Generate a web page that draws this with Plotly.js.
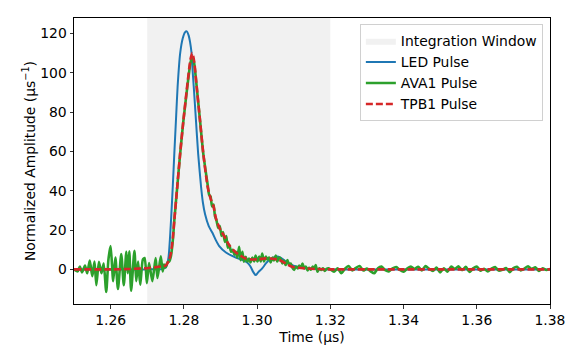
<!DOCTYPE html>
<html>
<head>
<meta charset="utf-8">
<script src="https://cdn.plot.ly/plotly-3.0.1.min.js"></script>
<style>
  html, body { margin: 0; padding: 0; background: #fff; }
  #chart { width: 581px; height: 363px; }
</style>
</head>
<body>
<div id="chart"></div>
<script>
// integration window (µs)
var windowX = [1.27, 1.32];

// LED pulse (blue)
var ledTime = [1.2500, 1.2600, 1.2700, 1.2740, 1.2751, 1.2758, 1.2765, 1.2770, 1.2774, 1.2779,
  1.2783, 1.2790, 1.2797, 1.2803, 1.2808, 1.2813, 1.2817, 1.2821, 1.2824, 1.2827,
  1.2833, 1.2839, 1.2847, 1.2852, 1.2858, 1.2868, 1.2878, 1.2887, 1.2896, 1.2915,
  1.2942, 1.2960, 1.2973, 1.2982, 1.2989, 1.2996, 1.3003, 1.3014, 1.3024, 1.3033,
  1.3044, 1.3055, 1.3064, 1.3078, 1.3096, 1.3114, 1.3132, 1.3160, 1.3200, 1.3500, 1.3800];
var ledAmp = [0, 0, 0, 0.2, 1, 6, 25, 43, 59, 78,
  93, 110, 117.5, 120.5, 121, 119, 115.5, 110, 101, 93,
  76, 59, 42, 34, 28, 22, 18.6, 15, 12, 8.6,
  6, 4.8, 3.5, 1.5, -1.2, -2.9, -1.5, 0.5, 3, 4.8,
  6, 6.6, 6, 4.2, 2.2, 1.2, 0.6, 0.2, 0, 0, 0];

// TPB1 pulse (red dashed)
var tpbTime = [1.2500, 1.2600, 1.2650, 1.2700, 1.2720, 1.2740, 1.2751, 1.2760, 1.2765, 1.2770,
  1.2774, 1.2782, 1.2790, 1.2799, 1.2809, 1.2818, 1.2823, 1.2828, 1.2835, 1.2844,
  1.2853, 1.2865, 1.2873, 1.2881, 1.2889, 1.2900, 1.2910, 1.2925, 1.2942, 1.2969,
  1.2987, 1.3005, 1.3024, 1.3042, 1.3060, 1.3078, 1.3096, 1.3114, 1.3132, 1.3160,
  1.3196, 1.3300, 1.3400, 1.3500, 1.3600, 1.3700, 1.3800];
var tpbAmp = [0, 0, 0.2, 0.6, 1.0, 1.5, 2, 5, 8.6, 16,
  25, 42, 59, 76, 93, 106.7, 110, 106, 93, 76,
  59, 42, 36, 32, 25, 20, 17, 12, 8.6, 5.5,
  5, 5.2, 5.6, 5.4, 4.8, 3, 1.3, 0.8, 0.5, 0.2,
  0, 0, 0, 0, 0, 0, 0];

// AVA1 pulse (green), noisy
var avaTime = [
  1.2500, 1.2510, 1.2516, 1.2522, 1.2530, 1.2536, 1.2543, 1.2550, 1.2556, 1.2561,
  1.2568, 1.2575, 1.2581, 1.2588, 1.2594, 1.2600, 1.2607, 1.2613, 1.2620, 1.2629,
  1.2636, 1.2643, 1.2647, 1.2651, 1.2656, 1.2665, 1.2670, 1.2675, 1.2681, 1.2688,
  1.2693, 1.2699, 1.2705, 1.2714, 1.2723, 1.2728, 1.2737, 1.2742, 1.2746, 1.2750,
  1.2755,
  1.2760, 1.2765, 1.2770, 1.2774, 1.2782, 1.2790, 1.2799, 1.2809, 1.2818, 1.2823,
  1.2828, 1.2835, 1.2844, 1.2853, 1.2865, 1.2869, 1.2873, 1.2877, 1.2881, 1.2885,
  1.2889, 1.2894, 1.2898, 1.2903, 1.2907, 1.2912, 1.2916, 1.2920, 1.2924, 1.2929,
  1.2933, 1.2938, 1.2942, 1.2946, 1.2951, 1.2955, 1.2960, 1.2964, 1.2969, 1.2973,
  1.2978, 1.2982, 1.2987, 1.2992, 1.2996, 1.3001, 1.3006, 1.3010, 1.3014, 1.3019,
  1.3024, 1.3028, 1.3033, 1.3037, 1.3042, 1.3046, 1.3051, 1.3055, 1.3060, 1.3064,
  1.3069, 1.3073, 1.3078, 1.3083, 1.3087, 1.3092, 1.3096, 1.3101, 1.3106, 1.3111,
  1.3115, 1.3120, 1.3124, 1.3129, 1.3133, 1.3138, 1.3142, 1.3147, 1.3152, 1.3156,
  1.3160, 1.3165, 1.3170, 1.3175, 1.3180, 1.3185, 1.3190, 1.3195,
  1.320, 1.321, 1.322, 1.323, 1.324, 1.325, 1.326, 1.327, 1.328, 1.329,
  1.330, 1.331, 1.332, 1.333, 1.334, 1.335, 1.336, 1.337, 1.338, 1.339,
  1.340, 1.341, 1.342, 1.343, 1.344, 1.345, 1.346, 1.347, 1.348, 1.349,
  1.350, 1.351, 1.352, 1.353, 1.354, 1.355, 1.356, 1.357, 1.358, 1.359,
  1.360, 1.361, 1.362, 1.363, 1.364, 1.365, 1.366, 1.367, 1.368, 1.369,
  1.370, 1.371, 1.372, 1.373, 1.374, 1.375, 1.376, 1.377, 1.378, 1.379, 1.380];
var avaAmp = [
  0, -1, 1.5, -1.5, 2, -2, 4.5, -3.5, 4, -8,
  3.9, -2, 3, -11.5, 5, 11.8, -6, 6, -10, 7.8,
  -8, 9, -2, 9.2, -10.9, 9.5, -6, 4, -7.8, 5,
  5.8, -7, 3.2, -6, 5.8, -4.4, 6.6, -1, 2.5, 1,
  3.5,
  4, 7, 15, 25, 42, 59, 76, 92, 105, 108,
  105, 93, 76, 59, 43, 38, 37, 32, 33, 27,
  25, 21, 22, 17, 19, 14, 17, 11, 12.5, 9,
  10, 7.5, 9, 6, 11.5, 4.7, 9, 3.9, 6.4, 4,
  5.5, 3.5, 6, 4, 7, 4, 6.5, 4, 8, 4,
  6.5, 5, 6, 3.5, 6, 4.5, 7, 4, 6, 5.6,
  3, 4.5, 2.2, 4.7, 2.5, 3, 1, -0.3, 1.5, 0.5,
  2, 1, 3, 0.5, 1.5, -0.5, 0.8, -0.2, 1.5, 0.4,
  2.2, -1.2, 0.5, -0.3, 0.6, -0.8, 0.3, 0.5,
  0, -1.2, 0.5, -2, 0.3, 1.7, -0.5, 0.8, 1.7, -0.6,
  0.4, -1, -2, 0.6, 1.4, -0.4, -1, 0.5, 1.2, -0.3,
  -1.2, 0.4, 1.5, 0.2, 1.3, -0.5, 1.7, 0.3, -0.8, 0.9,
  -1.5, 0.6, -1.2, 1.4, 0.2, 1.6, -0.4, 1.3, -1.3, 0.5,
  1.5, -0.7, 0.3, -1.1, 0.4, 1.2, -0.6, -0.2, 0.7, -1.4,
  0.6, 1.3, -0.5, 0.4, 1.6, 0.2, 1.1, -0.8, 0.5, -0.3, 0.2];

var xRange = [1.25, 1.38];
var yRange = [-17.6, 127.8];

var font = {family: "DejaVu Sans, sans-serif", size: 13.9, color: "#000"};

var windowTrace = {
  x: [windowX[0], windowX[1], windowX[1], windowX[0]],
  y: [yRange[0] - 50, yRange[0] - 50, yRange[1] + 50, yRange[1] + 50],
  type: "scatter", mode: "lines", fill: "toself",
  fillcolor: "rgb(241,241,241)", line: {width: 0},
  name: "Integration Window", hoverinfo: "skip"
};

var ledTrace = {
  x: ledTime, y: ledAmp, type: "scatter", mode: "lines",
  line: {color: "#1f77b4", width: 2, shape: "spline", smoothing: 0.6},
  name: "LED Pulse"
};

var avaTrace = {
  x: avaTime, y: avaAmp, type: "scatter", mode: "lines",
  line: {color: "#2ca02c", width: 2.6, shape: "spline", smoothing: 0.6},
  name: "AVA1 Pulse"
};

var tpbTrace = {
  x: tpbTime, y: tpbAmp, type: "scatter", mode: "lines",
  line: {color: "#d62728", width: 2.6, dash: "7px,3px", shape: "spline", smoothing: 0.6},
  name: "TPB1 Pulse"
};

var data = [windowTrace, ledTrace, avaTrace, tpbTrace];

var axisStyle = {
  showgrid: false, zeroline: false, showline: true, mirror: true,
  linecolor: "#000", linewidth: 1,
  ticks: "outside", ticklen: 3.5, tickwidth: 0.8, tickcolor: "#000",
  tickfont: font
};

var layout = {
  width: 581, height: 363,
  margin: {l: 74, r: 31, t: 18, b: 59},
  paper_bgcolor: "#fff", plot_bgcolor: "#fff",
  font: font,
  showlegend: true,
  legend: {
    x: 0.985, y: 0.978, xanchor: "right", yanchor: "top",
    bgcolor: "#fff", bordercolor: "#d0d0d0", borderwidth: 1,
    font: font, itemwidth: 30, tracegroupgap: 0
  },
  xaxis: Object.assign({}, axisStyle, {
    range: xRange, tickvals: [1.26, 1.28, 1.30, 1.32, 1.34, 1.36, 1.38],
    tickformat: ".2f",
    title: {text: "Time (µs)", font: font, standoff: 5}
  }),
  yaxis: Object.assign({}, axisStyle, {
    range: yRange, tickvals: [0, 20, 40, 60, 80, 100, 120]
  }),
  annotations: [{
    text: "Normalized Amplitude (µs<sup>−1</sup>)",
    xref: "paper", yref: "paper", x: -0.0945, y: 0.5,
    xanchor: "center", yanchor: "middle", textangle: -90,
    showarrow: false, font: font
  }]
};

Plotly.newPlot("chart", data, layout, {displayModeBar: false, staticPlot: true});
</script>
</body>
</html>
